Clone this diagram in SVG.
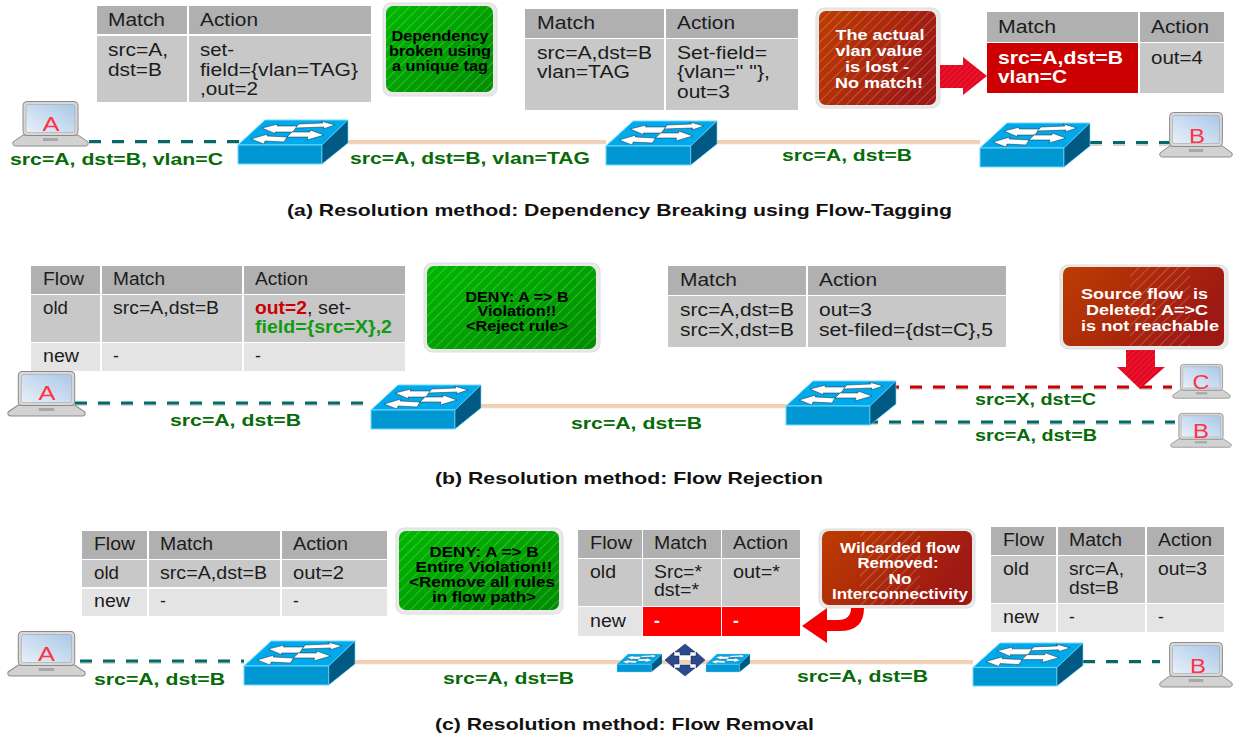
<svg xmlns="http://www.w3.org/2000/svg" xmlns:xlink="http://www.w3.org/1999/xlink" width="1233" height="736" viewBox="0 0 1233 736">
<style>
text{font-family:"Liberation Sans",Arial,sans-serif}
.bg{fill:#fff}
.h{fill:#b0b0b0}.b{fill:#c8c8c8}.n{fill:#e4e4e4}
.t{font-size:17.500px;fill:#1c1c1c}
.gt{font-size:14px;font-weight:bold;fill:#000;text-anchor:middle}
.wt{font-size:15px;font-weight:bold;fill:#fff;text-anchor:middle}
.lb{font-size:16.300px;font-weight:bold;fill:#076b07}
.cap{font-size:16.500px;font-weight:bold;fill:#111}
.pc{font-size:20px;fill:#ff3344;text-anchor:middle}
.teal{stroke:#006b68;stroke-width:3;stroke-dasharray:12 11;fill:none}
.red{stroke:#cc0000;stroke-width:3;stroke-dasharray:12 11;fill:none}
.shd{stroke:#d4d4d4;stroke-width:2;stroke-dasharray:12 11;fill:none}
.or{stroke:#f9cdaa;stroke-width:3;fill:none}
.ors{stroke:#dcdcdc;stroke-width:1.500;fill:none}
.sh{fill:#e9e9e9;stroke:#dddddd}
</style>
<defs>
<linearGradient id="grn" x1="0" y1="0" x2="1" y2="1"><stop offset="0" stop-color="#00b800"/><stop offset="1" stop-color="#008c00"/></linearGradient>
<linearGradient id="rd" x1="0" y1="0" x2="1" y2="0.4"><stop offset="0" stop-color="#bd3d00"/><stop offset="1" stop-color="#9e1814"/></linearGradient>
<linearGradient id="scr" x1="0" y1="1" x2="1" y2="0"><stop offset="0" stop-color="#eaf0f9"/><stop offset="1" stop-color="#a9c8e8"/></linearGradient>
<pattern id="hatch" width="7" height="7" patternUnits="userSpaceOnUse" patternTransform="rotate(45)"><rect x="0" y="0" width="1" height="7" fill="#ffffff" opacity="0.22"/></pattern>
<pattern id="rhatch" width="4" height="4" patternUnits="userSpaceOnUse" patternTransform="rotate(45)"><rect width="4" height="4" fill="#f3102c"/><rect width="1.500" height="4" fill="#cc0a20"/></pattern>
<symbol id="sw" viewBox="0 0 110 44" preserveAspectRatio="none" overflow="visible">
<polygon points="27,0 110,0 84,25 0,25" fill="#00a8ec" stroke="#6fd9ff" stroke-width="1"/>
<rect x="0" y="25" width="84" height="19" fill="#0097d2" stroke="#6fd9ff" stroke-width="1"/>
<polygon points="84,25 110,0 110,23 84,44" fill="#005a84" stroke="#6fd9ff" stroke-width="0.600"/>
<g fill="#fff" stroke="#1a2a33" stroke-width="0.500">
<polygon points="61,4 85,3 83,1 97,5 85,9 86,7 57,8"/>
<polygon points="24,8 40,4 39,6 59,6 55,12 37,12 38,14"/>
<polygon points="86,15 72,10 72,12 54,12 49,17 70,17 69,20"/>
<polygon points="13,19 30,14 29,16 49,17 46,22 27,21 26,24"/>
</g>
</symbol>
<symbol id="lap" viewBox="0 0 77 46" preserveAspectRatio="none" overflow="visible">
<path d="M1 41 L11 34 H66 L76 41 Q77 45 73 45 H4 Q0 45 1 41Z" fill="#d2d2d2" stroke="#8a8a8a"/>
<rect x="31" y="37" width="15" height="3" fill="#a8a8a8"/>
<rect x="11" y="0.500" width="55" height="34" rx="4" fill="#d8d8d8" stroke="#8a8a8a"/>
<rect x="14" y="3.500" width="49" height="28" rx="2" fill="url(#scr)" stroke="#9a9a9a" stroke-width="0.500"/>
</symbol>
</defs>
<rect class="bg" width="1233" height="736"/>

<g id="connectors">
<path class="shd" d="M89 143H240M1090 145H1170M75 405H372M1083 663H1160M80 663H244"/>
<path class="ors" d="M348 143.500H606M717 143.500H980M481 407.500H786M355 663.500H973"/>
<path class="or" d="M348 141.500H606M717 141.500H980M481 405.500H786M355 661.500H973"/>
<path class="teal" d="M89 141.500H240"/>
<path class="teal" d="M1090 142.500H1170"/>
<path class="teal" d="M75 403H372"/>
<path class="shd" d="M887 389H1172M866 424H1175"/>
<path class="red" d="M887 387H1172"/>
<path class="teal" d="M866 422H1175"/>
<path class="teal" d="M80 661H244"/>
<path class="teal" d="M1083 661.500H1160"/>
</g>

<g id="table-a1">
<rect class="h" x="97" y="6" width="90" height="28"/><rect class="h" x="189" y="6" width="182" height="28"/>
<rect class="b" x="97" y="36" width="90" height="66"/><rect class="b" x="189" y="36" width="182" height="66"/>
<text class="t" x="108" y="26" textLength="57" lengthAdjust="spacingAndGlyphs">Match</text>
<text class="t" x="200" y="26" textLength="58" lengthAdjust="spacingAndGlyphs">Action</text>
<text class="t" x="108" y="56" textLength="60" lengthAdjust="spacingAndGlyphs">src=A,</text>
<text class="t" x="108" y="76" textLength="54" lengthAdjust="spacingAndGlyphs">dst=B</text>
<text class="t" x="200" y="56" textLength="34" lengthAdjust="spacingAndGlyphs">set-</text>
<text class="t" x="200" y="76" textLength="158" lengthAdjust="spacingAndGlyphs">field={vlan=TAG}</text>
<text class="t" x="200" y="95" textLength="58" lengthAdjust="spacingAndGlyphs">,out=2</text>
</g>
<g id="note-a1">
<rect class="sh" x="383" y="3" width="114" height="93" rx="8"/>
<rect x="386" y="6" width="107" height="86" rx="7" fill="url(#grn)"/><rect x="386" y="6" width="107" height="86" rx="7" fill="url(#hatch)"/>
<text class="gt" x="440" y="41" textLength="97" lengthAdjust="spacingAndGlyphs">Dependency</text>
<text class="gt" x="440" y="56" textLength="102" lengthAdjust="spacingAndGlyphs">broken using</text>
<text class="gt" x="440" y="71" textLength="96" lengthAdjust="spacingAndGlyphs">a unique tag</text>
</g>
<g id="table-a2">
<rect class="h" x="525" y="9" width="139" height="29"/><rect class="h" x="666" y="9" width="132" height="29"/>
<rect class="b" x="525" y="39" width="139" height="71"/><rect class="b" x="666" y="39" width="132" height="71"/>
<text class="t" x="537" y="29" textLength="58" lengthAdjust="spacingAndGlyphs">Match</text>
<text class="t" x="677" y="29" textLength="58" lengthAdjust="spacingAndGlyphs">Action</text>
<text class="t" x="537" y="59" textLength="115" lengthAdjust="spacingAndGlyphs">src=A,dst=B</text>
<text class="t" x="537" y="78" textLength="93" lengthAdjust="spacingAndGlyphs">vlan=TAG</text>
<text class="t" x="677" y="59" textLength="90" lengthAdjust="spacingAndGlyphs">Set-field=</text>
<text class="t" x="677" y="78" textLength="93" lengthAdjust="spacingAndGlyphs">{vlan=" "},</text>
<text class="t" x="677" y="98" textLength="53" lengthAdjust="spacingAndGlyphs">out=3</text>
</g>
<g id="note-a2">
<rect class="sh" x="816" y="8" width="124" height="100" rx="8"/>
<rect x="819" y="11" width="117" height="94" rx="7" fill="url(#rd)"/><rect x="819" y="11" width="117" height="94" rx="7" fill="url(#hatch)"/>
<text class="wt" x="880" y="40" textLength="89" lengthAdjust="spacingAndGlyphs">The actual</text>
<text class="wt" x="879" y="56" textLength="87" lengthAdjust="spacingAndGlyphs">vlan value</text>
<text class="wt" x="877" y="72" textLength="64" lengthAdjust="spacingAndGlyphs">is lost -</text>
<text class="wt" x="879" y="88" textLength="88" lengthAdjust="spacingAndGlyphs">No match!</text>
<polygon points="940,65 963,65 963,57 987,76 963,95 963,88 940,88" fill="url(#rhatch)"/>
</g>
<g id="table-a3">
<rect class="h" x="987" y="12" width="151" height="30"/><rect class="h" x="1140" y="12" width="84" height="30"/>
<rect x="987" y="43" width="151" height="50" fill="#cc0000"/><rect class="b" x="1140" y="43" width="84" height="50"/>
<text class="t" x="998" y="33" textLength="58" lengthAdjust="spacingAndGlyphs">Match</text>
<text class="t" x="1151" y="33" textLength="58" lengthAdjust="spacingAndGlyphs">Action</text>
<text class="t" x="998" y="64" textLength="125" lengthAdjust="spacingAndGlyphs" style="fill:#fff;font-weight:bold">src=A,dst=B</text>
<text class="t" x="998" y="83" textLength="69" lengthAdjust="spacingAndGlyphs" style="fill:#fff;font-weight:bold">vlan=C</text>
<text class="t" x="1151" y="64" textLength="52" lengthAdjust="spacingAndGlyphs">out=4</text>
</g>
<g id="host-a-A"><use href="#lap" x="12" y="101" width="77" height="46"/><text class="pc" x="51" y="131" textLength="17" lengthAdjust="spacingAndGlyphs">A</text></g>
<g id="switch-a1"><use href="#sw" x="238" y="120" width="110" height="44"/></g>
<g id="switch-a2"><use href="#sw" x="606" y="121" width="111" height="44"/></g>
<g id="switch-a3"><use href="#sw" x="980" y="123" width="110" height="44"/></g>
<g id="host-a-B"><use href="#lap" x="1159" y="112" width="74" height="46"/><text class="pc" x="1197" y="143" textLength="16" lengthAdjust="spacingAndGlyphs">B</text></g>
<g id="labels-a">
<text class="lb" x="10" y="165" textLength="213" lengthAdjust="spacingAndGlyphs">src=A, dst=B, vlan=C</text>
<text class="lb" x="350" y="164" textLength="240" lengthAdjust="spacingAndGlyphs">src=A, dst=B, vlan=TAG</text>
<text class="lb" x="782" y="161" textLength="130" lengthAdjust="spacingAndGlyphs">src=A, dst=B</text>
<text class="cap" x="287" y="216" textLength="665" lengthAdjust="spacingAndGlyphs">(a) Resolution method: Dependency Breaking using Flow-Tagging</text>
</g>

<g id="table-b1">
<rect class="h" x="31" y="266" width="69" height="28"/><rect class="h" x="102" y="266" width="140" height="28"/><rect class="h" x="244" y="266" width="161" height="28"/>
<rect class="b" x="31" y="295" width="69" height="47"/><rect class="b" x="102" y="295" width="140" height="47"/><rect class="b" x="244" y="295" width="161" height="47"/>
<rect class="n" x="31" y="343" width="69" height="28"/><rect class="n" x="102" y="343" width="140" height="28"/><rect class="n" x="244" y="343" width="161" height="28"/>
<text class="t" x="43" y="285" textLength="41" lengthAdjust="spacingAndGlyphs">Flow</text>
<text class="t" x="113" y="285" textLength="52" lengthAdjust="spacingAndGlyphs">Match</text>
<text class="t" x="255" y="285" textLength="53" lengthAdjust="spacingAndGlyphs">Action</text>
<text class="t" x="43" y="314" textLength="25" lengthAdjust="spacingAndGlyphs">old</text>
<text class="t" x="113" y="314" textLength="106" lengthAdjust="spacingAndGlyphs">src=A,dst=B</text>
<text class="t" x="255" y="314" textLength="52" lengthAdjust="spacingAndGlyphs" style="fill:#cc0000;font-weight:bold">out=2</text>
<text class="t" x="307" y="314" textLength="44" lengthAdjust="spacingAndGlyphs">, set-</text>
<text class="t" x="255" y="333" textLength="137" lengthAdjust="spacingAndGlyphs" style="fill:#129a12;font-weight:bold">field={src=X},2</text>
<text class="t" x="43" y="362" textLength="36" lengthAdjust="spacingAndGlyphs">new</text>
<text class="t" x="113" y="362">-</text><text class="t" x="255" y="362">-</text>
</g>
<g id="note-b1">
<rect class="sh" x="424" y="263" width="176" height="89" rx="8"/>
<rect x="427" y="266" width="169" height="83" rx="7" fill="url(#grn)"/><rect x="427" y="266" width="169" height="83" rx="7" fill="url(#hatch)"/>
<text class="gt" x="517" y="302" textLength="103" lengthAdjust="spacingAndGlyphs">DENY: A =&gt; B</text>
<text class="gt" x="517" y="316" textLength="79" lengthAdjust="spacingAndGlyphs">Violation!!</text>
<text class="gt" x="517" y="331" textLength="102" lengthAdjust="spacingAndGlyphs">&lt;Reject rule&gt;</text>
</g>
<g id="table-b2">
<rect class="h" x="668" y="266" width="138" height="29"/><rect class="h" x="808" y="266" width="198" height="29"/>
<rect class="b" x="668" y="296" width="138" height="51"/><rect class="b" x="808" y="296" width="198" height="51"/>
<text class="t" x="680" y="286" textLength="57" lengthAdjust="spacingAndGlyphs">Match</text>
<text class="t" x="819" y="286" textLength="58" lengthAdjust="spacingAndGlyphs">Action</text>
<text class="t" x="680" y="316" textLength="114" lengthAdjust="spacingAndGlyphs">src=A,dst=B</text>
<text class="t" x="680" y="336" textLength="114" lengthAdjust="spacingAndGlyphs">src=X,dst=B</text>
<text class="t" x="819" y="316" textLength="53" lengthAdjust="spacingAndGlyphs">out=3</text>
<text class="t" x="819" y="336" textLength="174" lengthAdjust="spacingAndGlyphs">set-filed={dst=C},5</text>
</g>
<g id="note-b2">
<rect class="sh" x="1060" y="265" width="168" height="84" rx="8"/>
<rect x="1063" y="267" width="161" height="79" rx="7" fill="url(#rd)"/><rect x="1130" y="267" width="60" height="79" fill="url(#hatch)"/>
<text class="wt" x="1144.500" y="299" textLength="127" lengthAdjust="spacingAndGlyphs" xml:space="preserve">Source flow  is</text>
<text class="wt" x="1147" y="315" textLength="122" lengthAdjust="spacingAndGlyphs">Deleted: A=&gt;C</text>
<text class="wt" x="1150" y="331" textLength="138" lengthAdjust="spacingAndGlyphs">is not reachable</text>
<polygon points="1126,350 1155,350 1155,367 1165,367 1140,389 1117,367 1126,367" fill="url(#rhatch)"/>
</g>
<g id="host-b-A"><use href="#lap" x="7" y="371" width="79" height="46"/><text class="pc" x="47" y="400" textLength="17" lengthAdjust="spacingAndGlyphs">A</text></g>
<g id="switch-b1"><use href="#sw" x="371" y="385" width="110" height="44"/></g>
<g id="switch-b2"><use href="#sw" x="786" y="381" width="110" height="44"/></g>
<g id="host-b-C"><use href="#lap" x="1172" y="364" width="59" height="35"/><text class="pc" x="1201" y="389" textLength="17" lengthAdjust="spacingAndGlyphs">C</text></g>
<g id="host-b-B"><use href="#lap" x="1170" y="413" width="62" height="35"/><text class="pc" x="1201" y="438" textLength="16" lengthAdjust="spacingAndGlyphs">B</text></g>
<g id="labels-b">
<text class="lb" x="170" y="426" textLength="131" lengthAdjust="spacingAndGlyphs">src=A, dst=B</text>
<text class="lb" x="571" y="429" textLength="131" lengthAdjust="spacingAndGlyphs">src=A, dst=B</text>
<text class="lb" x="975" y="405" textLength="121" lengthAdjust="spacingAndGlyphs">src=X, dst=C</text>
<text class="lb" x="975" y="441" textLength="122" lengthAdjust="spacingAndGlyphs">src=A, dst=B</text>
<text class="cap" x="435" y="484" textLength="388" lengthAdjust="spacingAndGlyphs">(b) Resolution method: Flow Rejection</text>
</g>

<g id="table-c1">
<rect class="h" x="82" y="531" width="65" height="28"/><rect class="h" x="149" y="531" width="131" height="28"/><rect class="h" x="282" y="531" width="105" height="28"/>
<rect class="b" x="82" y="560" width="65" height="27"/><rect class="b" x="149" y="560" width="131" height="27"/><rect class="b" x="282" y="560" width="105" height="27"/>
<rect class="n" x="82" y="589" width="65" height="27"/><rect class="n" x="149" y="589" width="131" height="27"/><rect class="n" x="282" y="589" width="105" height="27"/>
<text class="t" x="94" y="550" textLength="41" lengthAdjust="spacingAndGlyphs">Flow</text>
<text class="t" x="160" y="550" textLength="53" lengthAdjust="spacingAndGlyphs">Match</text>
<text class="t" x="293" y="550" textLength="55" lengthAdjust="spacingAndGlyphs">Action</text>
<text class="t" x="94" y="579" textLength="25" lengthAdjust="spacingAndGlyphs">old</text>
<text class="t" x="160" y="579" textLength="107" lengthAdjust="spacingAndGlyphs">src=A,dst=B</text>
<text class="t" x="293" y="579" textLength="51" lengthAdjust="spacingAndGlyphs">out=2</text>
<text class="t" x="94" y="607" textLength="36" lengthAdjust="spacingAndGlyphs">new</text>
<text class="t" x="160" y="607">-</text><text class="t" x="293" y="607">-</text>
</g>
<g id="note-c1">
<rect class="sh" x="396" y="528" width="167" height="86" rx="8"/>
<rect x="399" y="531" width="160" height="79" rx="7" fill="url(#grn)"/><rect x="399" y="531" width="160" height="79" rx="7" fill="url(#hatch)"/>
<text class="gt" x="484" y="557" textLength="109" lengthAdjust="spacingAndGlyphs">DENY: A =&gt; B</text>
<text class="gt" x="484" y="572" textLength="137" lengthAdjust="spacingAndGlyphs">Entire Violation!!</text>
<text class="gt" x="482" y="587" textLength="146" lengthAdjust="spacingAndGlyphs">&lt;Remove all rules</text>
<text class="gt" x="484" y="602" textLength="104" lengthAdjust="spacingAndGlyphs">in flow path&gt;</text>
</g>
<g id="table-c2">
<rect class="h" x="578" y="530" width="64" height="28"/><rect class="h" x="643" y="530" width="78" height="28"/><rect class="h" x="722" y="530" width="78" height="28"/>
<rect class="b" x="578" y="559" width="64" height="47"/><rect class="b" x="643" y="559" width="78" height="47"/><rect class="b" x="722" y="559" width="78" height="47"/>
<rect class="n" x="578" y="607" width="64" height="29"/><rect x="643" y="607" width="78" height="29" fill="#ff0000"/><rect x="722" y="607" width="78" height="29" fill="#ff0000"/>
<text class="t" x="590" y="549" textLength="42" lengthAdjust="spacingAndGlyphs">Flow</text>
<text class="t" x="654" y="549" textLength="53" lengthAdjust="spacingAndGlyphs">Match</text>
<text class="t" x="733" y="549" textLength="55" lengthAdjust="spacingAndGlyphs">Action</text>
<text class="t" x="590" y="578" textLength="26" lengthAdjust="spacingAndGlyphs">old</text>
<text class="t" x="654" y="578" textLength="48" lengthAdjust="spacingAndGlyphs">Src=*</text>
<text class="t" x="654" y="596" textLength="45" lengthAdjust="spacingAndGlyphs">dst=*</text>
<text class="t" x="733" y="578" textLength="47" lengthAdjust="spacingAndGlyphs">out=*</text>
<text class="t" x="590" y="627" textLength="36" lengthAdjust="spacingAndGlyphs">new</text>
<text class="t" x="654" y="627" style="fill:#fff;font-weight:bold">-</text><text class="t" x="733" y="627" style="fill:#fff;font-weight:bold">-</text>
</g>
<g id="note-c2">
<rect class="sh" x="819" y="529" width="156" height="79" rx="8"/>
<rect x="822" y="531" width="150" height="74" rx="7" fill="url(#rd)"/><rect x="860" y="531" width="60" height="74" fill="url(#hatch)"/>
<text class="wt" x="900" y="553" textLength="120" lengthAdjust="spacingAndGlyphs">Wilcarded flow</text>
<text class="wt" x="898" y="568" textLength="81" lengthAdjust="spacingAndGlyphs">Removed:</text>
<text class="wt" x="900" y="584" textLength="23" lengthAdjust="spacingAndGlyphs">No</text>
<text class="wt" x="900" y="599" textLength="136" lengthAdjust="spacingAndGlyphs">Interconnectivity</text>
<path d="M851 608Q851 620 838 620H827V608L802 626L827 643V631H840Q864 631 864 608Z" fill="#f40000"/>
</g>
<g id="table-c3">
<rect class="h" x="991" y="527" width="65" height="28"/><rect class="h" x="1058" y="527" width="87" height="28"/><rect class="h" x="1147" y="527" width="77" height="28"/>
<rect class="b" x="991" y="556" width="65" height="47"/><rect class="b" x="1058" y="556" width="87" height="47"/><rect class="b" x="1147" y="556" width="77" height="47"/>
<rect class="n" x="991" y="604" width="65" height="28"/><rect class="n" x="1058" y="604" width="87" height="28"/><rect class="n" x="1147" y="604" width="77" height="28"/>
<text class="t" x="1003" y="546" textLength="41" lengthAdjust="spacingAndGlyphs">Flow</text>
<text class="t" x="1069" y="546" textLength="53" lengthAdjust="spacingAndGlyphs">Match</text>
<text class="t" x="1158" y="546" textLength="54" lengthAdjust="spacingAndGlyphs">Action</text>
<text class="t" x="1003" y="575" textLength="26" lengthAdjust="spacingAndGlyphs">old</text>
<text class="t" x="1069" y="575" textLength="55" lengthAdjust="spacingAndGlyphs">src=A,</text>
<text class="t" x="1069" y="594" textLength="50" lengthAdjust="spacingAndGlyphs">dst=B</text>
<text class="t" x="1158" y="575" textLength="49" lengthAdjust="spacingAndGlyphs">out=3</text>
<text class="t" x="1003" y="623" textLength="36" lengthAdjust="spacingAndGlyphs">new</text>
<text class="t" x="1069" y="623">-</text><text class="t" x="1158" y="623">-</text>
</g>
<g id="host-c-A"><use href="#lap" x="7" y="631" width="79" height="46"/><text class="pc" x="46.500" y="661" textLength="17" lengthAdjust="spacingAndGlyphs">A</text></g>
<g id="switch-c1"><use href="#sw" x="244" y="641" width="111" height="44"/></g>
<g id="switch-c2"><use href="#sw" x="617" y="654" width="45" height="18"/></g>
<g id="cloud-c">
<g fill="#2b4a8c" stroke="#16265c" stroke-width="0.500">
<polygon points="685,644 695,652 690,652 690,655 680,655 680,652 675,652"/>
<polygon points="685,676 695,668 690,668 690,665 680,665 680,668 675,668"/>
<polygon points="665,660 674,652 674,656 679,656 679,664 674,664 674,668"/>
<polygon points="705,660 696,652 696,656 691,656 691,664 696,664 696,668"/>
</g>
</g>
<g id="switch-c3"><use href="#sw" x="706" y="654" width="44" height="18"/></g>
<g id="switch-c4"><use href="#sw" x="973" y="643" width="110" height="43"/></g>
<g id="host-c-B"><use href="#lap" x="1159" y="642" width="74" height="46"/><text class="pc" x="1198" y="673" textLength="16" lengthAdjust="spacingAndGlyphs">B</text></g>
<g id="labels-c">
<text class="lb" x="94" y="685" textLength="131" lengthAdjust="spacingAndGlyphs">src=A, dst=B</text>
<text class="lb" x="443" y="684" textLength="131" lengthAdjust="spacingAndGlyphs">src=A, dst=B</text>
<text class="lb" x="797" y="682" textLength="131" lengthAdjust="spacingAndGlyphs">src=A, dst=B</text>
<text class="cap" x="435" y="730" textLength="379" lengthAdjust="spacingAndGlyphs">(c) Resolution method: Flow Removal</text>
</g>
</svg>
